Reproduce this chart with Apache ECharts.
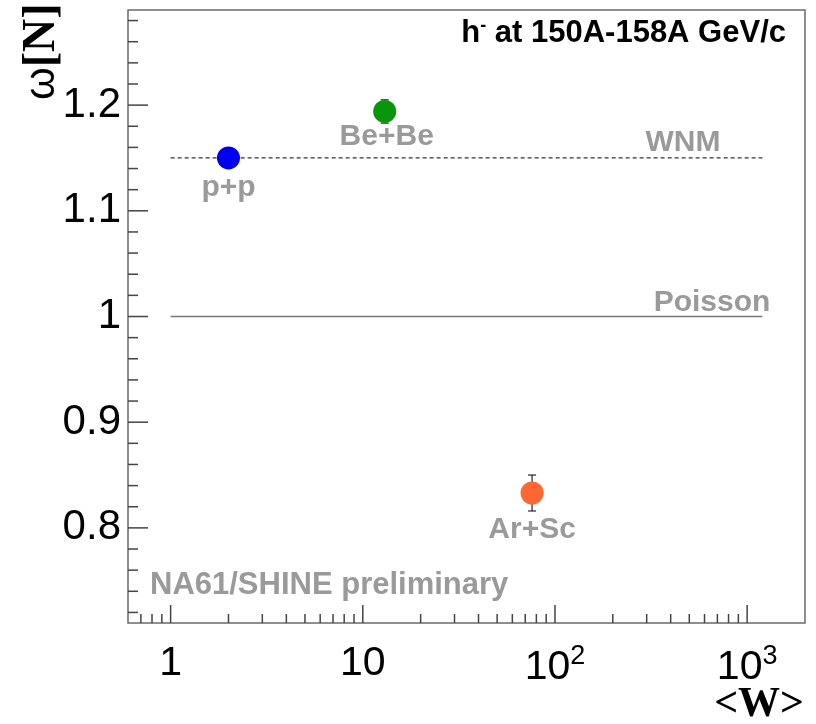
<!DOCTYPE html>
<html>
<head>
<meta charset="utf-8">
<script src="https://cdn.jsdelivr.net/npm/echarts@6/dist/echarts.min.js"></script>
<style>
  html, body { margin: 0; padding: 0; background: #fff; }
  #chart { width: 816px; height: 724px; }
</style>
</head>
<body>
<div id="chart"></div>
<script>
// Systems and their scaled-variance measurements
const systems = ['p+p', 'Be+Be', 'Ar+Sc'];
const wounded = [2.0, 13, 76];           // <W>
const omega = [1.150, 1.194, 0.833];     // ω[N]
const omegaErr = [0.004, 0.011, 0.017];
const colors = ['#0000f0', '#0a960a', '#ff6633'];

// Reference lines
const refNames = ['WNM', 'Poisson'];
const refValues = [1.15, 1.0];
const refRange = [1, 1200];

// Axis ranges and tick values
const xMin = 0.6, xMax = 2000;
const yMin = 0.71, yMax = 1.29;
const xMajorTicks = [1, 10, 100, 1000];
const xMinorTicks = [0.7, 0.8, 0.9, 2, 3, 4, 5, 6, 7, 8, 9, 20, 30, 40, 50, 60, 70, 80, 90,
  200, 300, 400, 500, 600, 700, 800, 900];
const yMajorTicks = [0.8, 0.9, 1.0, 1.1, 1.2];
const yMinorTicks = [0.72, 0.74, 0.76, 0.78, 0.82, 0.84, 0.86, 0.88, 0.92, 0.94, 0.96, 0.98,
  1.02, 1.04, 1.06, 1.08, 1.12, 1.14, 1.16, 1.18, 1.22, 1.24, 1.26, 1.28];

const GRAY = '#9a9a9a';
const SANS = '"Liberation Sans", Arial, Helvetica, sans-serif';
const SERIF = '"Liberation Serif", "Times New Roman", serif';

const chart = echarts.init(document.getElementById('chart'), null, { renderer: 'canvas' });

// ticks drawn inward from the bottom and left frame edges
const tickData = []
  .concat(xMajorTicks.map(v => ['x', v, 18]))
  .concat(xMinorTicks.map(v => ['x', v, 9]))
  .concat(yMajorTicks.map(v => ['y', v, 20]))
  .concat(yMinorTicks.map(v => ['y', v, 10]));

function renderTick(params, api) {
  const item = tickData[params.dataIndex];
  const len = item[2];
  let p;
  if (item[0] === 'x') {
    p = api.coord([item[1], yMin]);
    return { type: 'line', shape: { x1: p[0], y1: p[1], x2: p[0], y2: p[1] - len },
      style: { stroke: '#444', lineWidth: 1.5 }, silent: true };
  }
  p = api.coord([xMin, item[1]]);
  return { type: 'line', shape: { x1: p[0], y1: p[1], x2: p[0] + len, y2: p[1] },
    style: { stroke: '#444', lineWidth: 1.5 }, silent: true };
}

function renderErr(params, api) {
  const x = api.value(0), y = api.value(1), e = api.value(2);
  const top = api.coord([x, y + e]);
  const bot = api.coord([x, y - e]);
  const cap = 4;
  return {
    type: 'group', silent: true,
    children: [
      { type: 'line', shape: { x1: top[0], y1: top[1], x2: bot[0], y2: bot[1] }, style: { stroke: '#222', lineWidth: 1.2 } },
      { type: 'line', shape: { x1: top[0] - cap, y1: top[1], x2: top[0] + cap, y2: top[1] }, style: { stroke: '#222', lineWidth: 1.2 } },
      { type: 'line', shape: { x1: bot[0] - cap, y1: bot[1], x2: bot[0] + cap, y2: bot[1] }, style: { stroke: '#222', lineWidth: 1.2 } }
    ]
  };
}

const labelOffsets = [[0, 1], [2, -3], [0, 8]];

const pointData = systems.map((name, i) => ({
  name: name,
  value: [wounded[i], omega[i]],
  itemStyle: { color: colors[i], opacity: 1 },
  label: { offset: labelOffsets[i] }
}));

const LABEL_FONT = { color: GRAY, fontFamily: SANS, fontWeight: 'bold', fontSize: 30 };

const option = {
  animation: false,
  backgroundColor: '#fff',
  grid: { left: 128, top: 10, right: 11, bottom: 101, show: true, borderColor: '#6a6a6a', borderWidth: 1.5, backgroundColor: '#fff' },
  xAxis: {
    type: 'log', logBase: 10, min: xMin, max: xMax,
    axisLine: { show: false }, axisTick: { show: false }, splitLine: { show: false }, minorTick: { show: false },
    axisLabel: {
      margin: 20, color: '#000', fontFamily: SANS, fontSize: 41,
      formatter: function (v) {
        const e = Math.log10(v);
        if (Math.abs(e - Math.round(e)) > 1e-6) return '';
        const k = Math.round(e);
        if (k === 0) return '1';
        if (k === 1) return '10';
        return '10{sup|' + k + '}';
      },
      rich: { sup: { fontSize: 27, verticalAlign: 'top', fontFamily: SANS, color: '#000', padding: [0, 0, 22, 0] } }
    }
  },
  yAxis: {
    type: 'value', min: yMin, max: yMax,
    axisLine: { show: false }, axisTick: { show: false }, splitLine: { show: false },
    axisLabel: {
      customValues: yMajorTicks, margin: 7, color: '#000', fontFamily: SANS, fontSize: 42,
      formatter: v => String(+v.toFixed(2))
    }
  },
  series: [
    {
      type: 'custom', coordinateSystem: 'cartesian2d', renderItem: renderTick,
      data: tickData.map((t, i) => [i]), silent: true, z: 1, clip: false
    },
    {
      type: 'line', data: [[refRange[0], refValues[0]], [refRange[1], refValues[0]]],
      symbol: 'none', lineStyle: { color: '#333', width: 1.2, type: [4, 3] }, z: 2, silent: true,
      endLabel: Object.assign({ show: true, formatter: refNames[0], align: 'right', verticalAlign: 'bottom', offset: [-50, 0] }, LABEL_FONT)
    },
    {
      type: 'line', data: [[refRange[0], refValues[1]], [refRange[1], refValues[1]]],
      symbol: 'none', lineStyle: { color: '#777', width: 1.5 }, z: 2, silent: true,
      endLabel: Object.assign({ show: true, formatter: refNames[1], align: 'right', verticalAlign: 'bottom', offset: [0, 1] }, LABEL_FONT)
    },
    {
      type: 'custom', coordinateSystem: 'cartesian2d', renderItem: renderErr,
      data: wounded.map((w, i) => [w, omega[i], omegaErr[i]]), z: 3
    },
    {
      type: 'scatter', data: pointData, symbol: 'circle', symbolSize: 23, z: 4,
      label: Object.assign({ show: true, position: 'bottom', distance: 2, formatter: p => p.name }, LABEL_FONT)
    }
  ],
  graphic: [
    {
      type: 'text', right: 30, top: 17, z: 10,
      style: { text: 'h{sup|-} at 150A-158A GeV/c', fill: '#000', font: 'bold 31px ' + SANS,
        rich: { sup: { fontSize: 18, fontWeight: 'bold', fontFamily: SANS, verticalAlign: 'top', padding: [0, 0, 14, 0] } } }
    },
    {
      type: 'text', left: 150, top: 570, z: 10,
      style: { text: 'NA61/SHINE preliminary', fill: GRAY, font: 'bold 31px ' + SANS }
    },
    {
      type: 'text', x: 42, y: 100, rotation: Math.PI / 2, z: 10,
      style: { text: '{w|ω}{n|[N]}', align: 'left', verticalAlign: 'middle',
        rich: { w: { fontFamily: SANS, fontSize: 42, fill: '#000' }, n: { fontFamily: SERIF, fontWeight: 'bold', fontSize: 46, fill: '#000' } } }
    },
    {
      type: 'text', right: 12, top: 684, z: 10,
      style: { text: '<W>', fill: '#000', font: 'bold 42px ' + SERIF }
    }
  ]
};

chart.setOption(option);
</script>
</body>
</html>
